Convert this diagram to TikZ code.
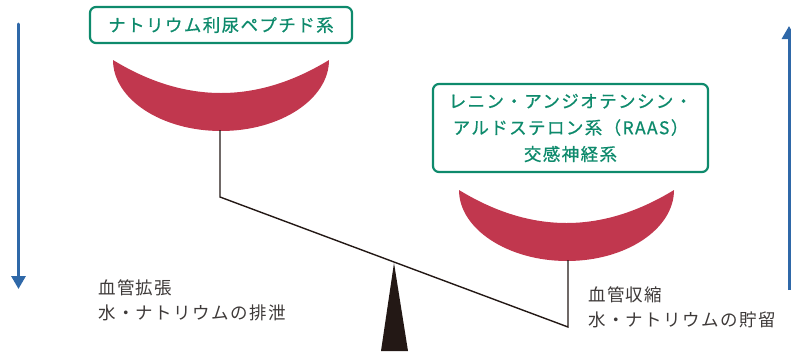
\documentclass[tikz,border=0pt]{standalone}
\usepackage{fontspec}
\setmainfont[LetterSpace=8]{Noto Sans CJK JP}
\newfontfamily\boxfont[LetterSpace=8, FakeBold=0.7]{Noto Sans CJK JP}
\usetikzlibrary{arrows.meta}
\definecolor{boxgreen}{HTML}{0E8A6C}
\definecolor{bowlred}{HTML}{C1374E}
\definecolor{arrowblue}{HTML}{2F68A8}
\definecolor{darkink}{HTML}{231815}
\definecolor{labelgray}{HTML}{3E3A39}
\tikzset{
  sysbox/.style={draw=boxgreen, line width=2.2pt, rounded corners=6pt,
    text=boxgreen, font=\boxfont\fontsize{17.5pt}{26.5pt}\selectfont, align=center, inner sep=0pt},
  bowl/.style={fill=bowlred, draw=none},
  beamline/.style={draw=darkink, line width=1.4pt},
  effect/.style={text=labelgray, font=\fontsize{17.5pt}{25pt}\selectfont, align=left, inner sep=0pt, anchor=west},
  trend/.style={draw=arrowblue, line width=3pt, -{Triangle[width=14pt,length=13pt]}}
}
\begin{document}
\begin{tikzpicture}[x=1pt,y=-1pt]
\useasboundingbox (0,0) rectangle (791,351);
% boxes
\node[sysbox, minimum width=262pt, minimum height=36pt] (nps) at (221,25) {ナトリウム利尿ペプチド系};
\node[sysbox, minimum width=275pt, minimum height=88pt] (raas) at (570.5,128) {レニン・アンジオテンシン・\\アルドステロン系（RAAS）\\交感神経系};
% bowls
\path[bowl] (113,60) .. controls (185,104) and (257,104) .. (329,60)
  .. controls (329,99) and (280.6,131) .. (221,131)
  .. controls (161.4,131) and (113,99) .. (113,60) -- cycle;
\path[bowl] (459,190) .. controls (531,234) and (602,234) .. (674,190)
  .. controls (674,229) and (626,261) .. (567,261)
  .. controls (508,261) and (459,229) .. (459,190) -- cycle;
% beam
\coordinate (lb) at (220,130);
\coordinate (lc) at (220,197);
\coordinate (rc) at (568,327);
\coordinate (rb) at (568,260);
\draw[beamline] (lb) -- (lc) -- (rc) -- (rb);
% fulcrum
\coordinate (tip) at (394,263);
\fill[darkink] (tip) -- (408,351) -- (381,351) -- cycle;
% labels
\node[effect] (left) at (98,300.5) {血管拡張\\水・ナトリウムの排泄};
\node[effect] (right) at (588,307) {血管収縮\\水・ナトリウムの貯留};
% arrows
\coordinate (la) at (18.5,24);
\coordinate (lz) at (18.5,289);
\draw[trend, line cap=round] (la) -- (lz);
\coordinate (ra) at (789,290);
\coordinate (rz) at (789,26);
\draw[trend] (ra) -- (rz);
\end{tikzpicture}
\end{document}
